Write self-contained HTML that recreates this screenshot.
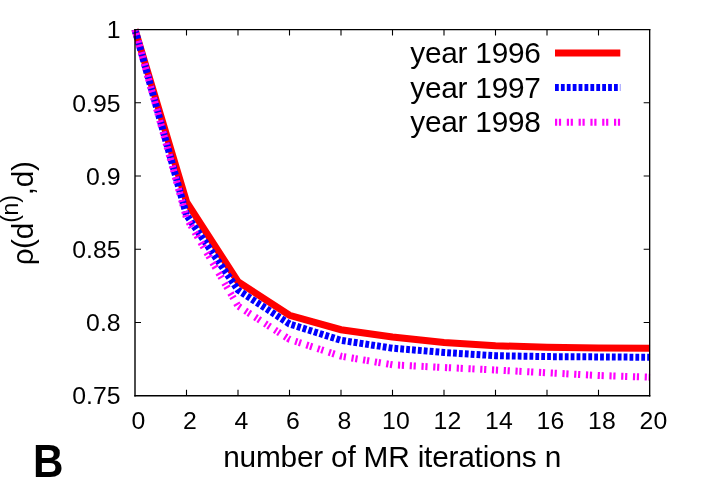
<!DOCTYPE html>
<html><head><meta charset="utf-8"><title>B</title>
<style>
html,body{margin:0;padding:0;background:#fff;}
body{width:706px;height:494px;overflow:hidden;}
svg{display:block;will-change:transform;}
text{font-family:"Liberation Sans",sans-serif;fill:#000;}
.tk text{font-size:24.8px;}
.lb{font-size:29.8px;letter-spacing:-0.2px;}
.lg{font-size:29.8px;letter-spacing:-0.25px;}
</style></head><body>
<svg width="706" height="494" viewBox="0 0 706 494">
<rect width="706" height="494" fill="#fff"/>
<g fill="none" stroke-width="7" stroke-linejoin="miter" stroke-linecap="butt">
<polyline stroke="#ff0000" points="135.00,29.60 186.50,201.80 238.00,281.70 289.50,315.30 341.00,329.70 392.50,337.00 444.00,342.50 495.50,345.70 547.00,347.30 598.50,348.00 650.00,348.30"/>
<polyline stroke="#0000ff" stroke-dasharray="3.79 2.095" points="135.00,29.60 186.50,215.00 238.00,290.00 289.50,324.00 341.00,340.30 392.50,348.20 444.00,352.50 495.50,355.70 547.00,356.60 598.50,356.90 650.00,357.30"/>
<polyline stroke="#ff00ff" stroke-dasharray="2.2 1.7 2.2 5.663" points="135.00,29.60 186.50,218.00 238.00,306.00 289.50,339.40 341.00,356.20 392.50,364.80 444.00,367.50 495.50,370.00 547.00,372.80 598.50,375.50 650.00,377.20"/>
<path stroke="#ff0000" d="M555 53H620.3"/>
<path stroke="#0000ff" stroke-dasharray="3.8 2.1" d="M555 87.5H620.3"/>
<path stroke="#ff00ff" stroke-dasharray="2.2 1.7 2.2 5.7" d="M555 122.3H620.3"/>
</g>
<g fill="none" stroke="#000" stroke-linecap="square">
<path stroke-width="1.3" d="M135.0 29.6H649.67"/>
<path stroke-width="1.35" d="M135.0 395.7H649.67"/>
<path stroke-width="1.4" d="M135.0 29.6V395.7"/>
<path stroke-width="1.35" d="M649.67 29.6V395.7"/>
<g stroke-width="1.1" stroke-linecap="butt"><path d="M186.50 395.7v-6M186.50 29.6v6"/><path d="M238.00 395.7v-6M238.00 29.6v6"/><path d="M289.50 395.7v-6M289.50 29.6v6"/><path d="M341.00 395.7v-6M341.00 29.6v6"/><path d="M392.50 395.7v-6M392.50 29.6v6"/><path d="M444.00 395.7v-6M444.00 29.6v6"/><path d="M495.50 395.7v-6M495.50 29.6v6"/><path d="M547.00 395.7v-6M547.00 29.6v6"/><path d="M598.50 395.7v-6M598.50 29.6v6"/><path d="M135.0 102.82h6M649.67 102.82h-6"/><path d="M135.0 176.04h6M649.67 176.04h-6"/><path d="M135.0 249.26h6M649.67 249.26h-6"/><path d="M135.0 322.48h6M649.67 322.48h-6"/></g>
</g>
<g class="tk"><text x="138.40" y="428.8" text-anchor="middle">0</text><text x="189.90" y="428.8" text-anchor="middle">2</text><text x="241.40" y="428.8" text-anchor="middle">4</text><text x="292.90" y="428.8" text-anchor="middle">6</text><text x="344.40" y="428.8" text-anchor="middle">8</text><text x="395.90" y="428.8" text-anchor="middle">10</text><text x="447.40" y="428.8" text-anchor="middle">12</text><text x="498.90" y="428.8" text-anchor="middle">14</text><text x="550.40" y="428.8" text-anchor="middle">16</text><text x="601.90" y="428.8" text-anchor="middle">18</text><text x="653.40" y="428.8" text-anchor="middle">20</text><text x="120.6" y="38.30" text-anchor="end">1</text><text x="120.6" y="111.52" text-anchor="end">0.95</text><text x="120.6" y="184.74" text-anchor="end">0.9</text><text x="120.6" y="257.96" text-anchor="end">0.85</text><text x="120.6" y="331.18" text-anchor="end">0.8</text><text x="120.6" y="404.40" text-anchor="end">0.75</text></g>
<g class="lb">
<text class="lg" x="540.6" y="63.1" text-anchor="end">year 1996</text>
<text class="lg" x="540.6" y="97.7" text-anchor="end">year 1997</text>
<text class="lg" x="540.6" y="132.4" text-anchor="end">year 1998</text>
<text x="392.1" y="467" text-anchor="middle">number of MR iterations n</text>
<text style="letter-spacing:-0.2px" transform="translate(32.5,265.3) rotate(-90)">ρ<tspan dx="-0.4">(d</tspan><tspan dy="-14.8" font-size="23">(n)</tspan><tspan dy="14.8">,d)</tspan></text>
</g>
<text transform="translate(33.1,476.6) scale(0.91,1)" font-size="46.3" font-weight="bold">B</text>
</svg>
</body></html>
